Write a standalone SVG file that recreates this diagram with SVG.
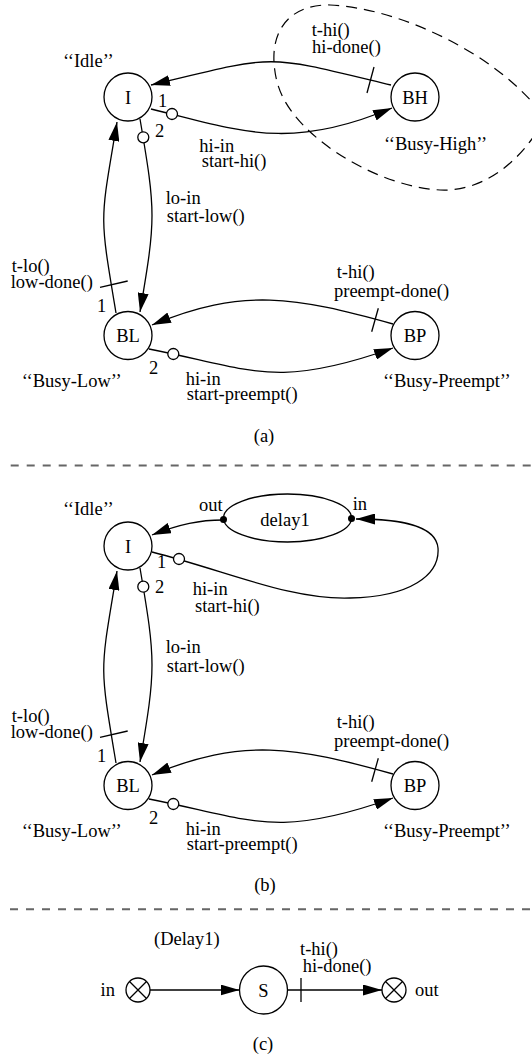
<svg xmlns="http://www.w3.org/2000/svg" width="532" height="1059" viewBox="0 0 532 1059">
  <style>
    text { font-family: "Liberation Serif", "Times New Roman", serif; font-size: 18.5px; fill: #000; }
    .mid { text-anchor: middle; }
    .node { fill: #fff; stroke: #000; stroke-width: 1.3; }
    .edge { fill: none; stroke: #000; stroke-width: 1.3; }
    .arrow { marker-end: url(#ah); }
    .tick { stroke: #000; stroke-width: 1.3; }
    .port { fill: #fff; stroke: #000; stroke-width: 1.3; }
    .dot { fill: #000; }
    .sep { stroke: #666; stroke-width: 2; stroke-dasharray: 8 8; }
    .region { fill: none; stroke: #000; stroke-width: 1.2; stroke-dasharray: 11 7; }
  </style>
  <defs>
    <marker id="ah" markerWidth="20" markerHeight="11" refX="19" refY="5.5" orient="auto" markerUnits="userSpaceOnUse">
      <path d="M0,0 L19,5.5 L0,11 z" fill="#000"/>
    </marker>
  </defs>

  <rect width="532" height="1059" fill="#fff"/>

  <!-- ===== (a) ===== -->
  <path class="region" d="M274 62 C272 25 295 4 330 5 C400 8 500 55 545 118 C520 165 480 192 440 190 C385 187 320 150 292 112 C280 96 275 80 274 62 Z"/>

  <g id="a-connectors">
    <!-- BH -> I -->
    <path class="edge arrow" d="M391 85 C263 54 279 54 151 85"/>
    <line class="tick" x1="374" y1="67" x2="367" y2="93"/>
    <!-- I -> BH -->
    <path class="edge arrow" d="M151 109 C239 130 287 152 392 108"/>
    <circle class="port" cx="172" cy="114" r="5.5"/>
    <!-- I -> BL -->
    <path class="edge arrow" d="M140 119 C156 213 156 218 140 312"/>
    <circle class="port" cx="143.3" cy="137.3" r="5.5"/>
    <!-- BL -> I -->
    <path class="edge arrow" d="M116 313 C99 211 100 224 117 122"/>
    <line class="tick" x1="100" y1="287.3" x2="127.7" y2="281"/>
    <!-- BP -> BL -->
    <path class="edge arrow" d="M393 324 C296 297 242 287 152 325"/>
    <line class="tick" x1="378.3" y1="308.3" x2="371.7" y2="331.7"/>
    <!-- BL -> BP -->
    <path class="edge arrow" d="M149 349 C251 369 275 390 393 348"/>
    <circle class="port" cx="173.3" cy="354" r="5.5"/>
  </g>

  <g id="a-I"><circle class="node" cx="128" cy="97" r="24"/><text class="mid" x="128" y="103.5">I</text></g>
  <g id="a-BH"><circle class="node" cx="415" cy="97" r="24"/><text class="mid" x="415" y="103.5">BH</text></g>
  <g id="a-BL"><circle class="node" cx="128" cy="335.5" r="24"/><text class="mid" x="128" y="342">BL</text></g>
  <g id="a-BP"><circle class="node" cx="415" cy="335.5" r="24"/><text class="mid" x="415" y="342">BP</text></g>

  <g id="a-labels">
    <text x="63" y="67">‘‘Idle’’</text>
    <text x="384" y="150">‘‘Busy-High’’</text>
    <text x="21.7" y="386.7">‘‘Busy-Low’’</text>
    <text x="383" y="386.7">‘‘Busy-Preempt’’</text>
    <text x="311.7" y="35.5">t-hi()</text>
    <text x="312" y="53">hi-done()</text>
    <text x="158" y="107">1</text>
    <text x="155" y="136.5">2</text>
    <text x="199.3" y="151.7">hi-in</text>
    <text x="201.7" y="166.7">start-hi()</text>
    <text x="165.7" y="204">lo-in</text>
    <text x="166.7" y="221.7">start-low()</text>
    <text x="11.7" y="271.7">t-lo()</text>
    <text x="10.7" y="288.3">low-done()</text>
    <text x="97" y="312">1</text>
    <text x="149" y="374">2</text>
    <text x="336.7" y="278.3">t-hi()</text>
    <text x="334" y="296.7">preempt-done()</text>
    <text x="185.7" y="385">hi-in</text>
    <text x="186.7" y="400">start-preempt()</text>
    <text class="mid" x="264" y="442">(a)</text>
  </g>

  <line class="sep" x1="10.7" y1="465.5" x2="532" y2="465.5"/>

  <!-- ===== (b) ===== -->
  <g id="b-connectors">
    <!-- delay1.out -> I -->
    <path class="edge arrow" d="M223 520 C200 520 180 524 152 535"/>
    <!-- I -> delay1.in -->
    <path class="edge arrow" d="M152 552 C230 572 290 600 350 598 C410 597 440 575 438 548 C436 525 400 519 356 519"/>
    <circle class="port" cx="179" cy="559" r="5.5"/>
    <!-- I -> BL -->
    <path class="edge arrow" d="M140 568 C156 662 156 668 140 762"/>
    <circle class="port" cx="143.3" cy="586.7" r="5.5"/>
    <!-- BL -> I -->
    <path class="edge arrow" d="M116 763 C99 661 100 674 117 571"/>
    <line class="tick" x1="100" y1="737.3" x2="127.7" y2="731"/>
    <!-- BP -> BL -->
    <path class="edge arrow" d="M393 774 C296 747 242 737 152 775"/>
    <line class="tick" x1="378.3" y1="758.3" x2="371.7" y2="781.7"/>
    <!-- BL -> BP -->
    <path class="edge arrow" d="M149 799 C251 819 275 840 393 798"/>
    <circle class="port" cx="173.3" cy="804" r="5.5"/>
  </g>

  <g id="b-delay1">
    <ellipse class="node" cx="287.5" cy="518" rx="64" ry="24"/>
    <text class="mid" x="285" y="526">delay1</text>
    <circle class="dot" cx="223.5" cy="519.5" r="3.5"/>
    <circle class="dot" cx="351.5" cy="518.5" r="3.5"/>
    <text x="199" y="510.7">out</text>
    <text x="352.7" y="510">in</text>
  </g>
  <g id="b-I"><circle class="node" cx="128" cy="546" r="24"/><text class="mid" x="128" y="552.5">I</text></g>
  <g id="b-BL"><circle class="node" cx="128" cy="785.5" r="24"/><text class="mid" x="128" y="792">BL</text></g>
  <g id="b-BP"><circle class="node" cx="415" cy="785.5" r="24"/><text class="mid" x="415" y="792">BP</text></g>

  <g id="b-labels">
    <text x="63" y="515">‘‘Idle’’</text>
    <text x="157" y="568">1</text>
    <text x="155" y="593">2</text>
    <text x="192.7" y="595">hi-in</text>
    <text x="195" y="611.7">start-hi()</text>
    <text x="165.7" y="653.3">lo-in</text>
    <text x="166.7" y="671.7">start-low()</text>
    <text x="11.7" y="721.7">t-lo()</text>
    <text x="10.7" y="738.3">low-done()</text>
    <text x="97" y="762">1</text>
    <text x="21.7" y="836.7">‘‘Busy-Low’’</text>
    <text x="149" y="824">2</text>
    <text x="336.7" y="728.3">t-hi()</text>
    <text x="334" y="746.7">preempt-done()</text>
    <text x="185.7" y="835">hi-in</text>
    <text x="186.7" y="850">start-preempt()</text>
    <text x="383" y="836.7">‘‘Busy-Preempt’’</text>
    <text class="mid" x="265" y="891">(b)</text>
  </g>

  <line class="sep" x1="10" y1="909.3" x2="532" y2="909.3"/>

  <!-- ===== (c) ===== -->
  <g id="c-connectors">
    <line class="edge arrow" x1="150" y1="990" x2="239.5" y2="990"/>
    <line class="edge arrow" x1="287.5" y1="990" x2="382" y2="990"/>
    <line class="tick" x1="301" y1="978" x2="301" y2="1002"/>
  </g>
  <g id="c-in">
    <circle class="port" cx="138" cy="990" r="12"/>
    <path class="edge" d="M129.5 981.5 L146.5 998.5 M146.5 981.5 L129.5 998.5"/>
    <text x="100.5" y="995.5">in</text>
  </g>
  <g id="c-S"><circle class="node" cx="263.5" cy="990" r="24"/><text class="mid" x="263.5" y="996.5">S</text></g>
  <g id="c-out">
    <circle class="port" cx="394" cy="990" r="12"/>
    <path class="edge" d="M385.5 981.5 L402.5 998.5 M402.5 981.5 L385.5 998.5"/>
    <text x="415" y="995.5">out</text>
  </g>
  <g id="c-labels">
    <text x="154" y="945">(Delay1)</text>
    <text x="300" y="955">t-hi()</text>
    <text x="302.7" y="971.7">hi-done()</text>
    <text class="mid" x="263" y="1050">(c)</text>
  </g>
</svg>
